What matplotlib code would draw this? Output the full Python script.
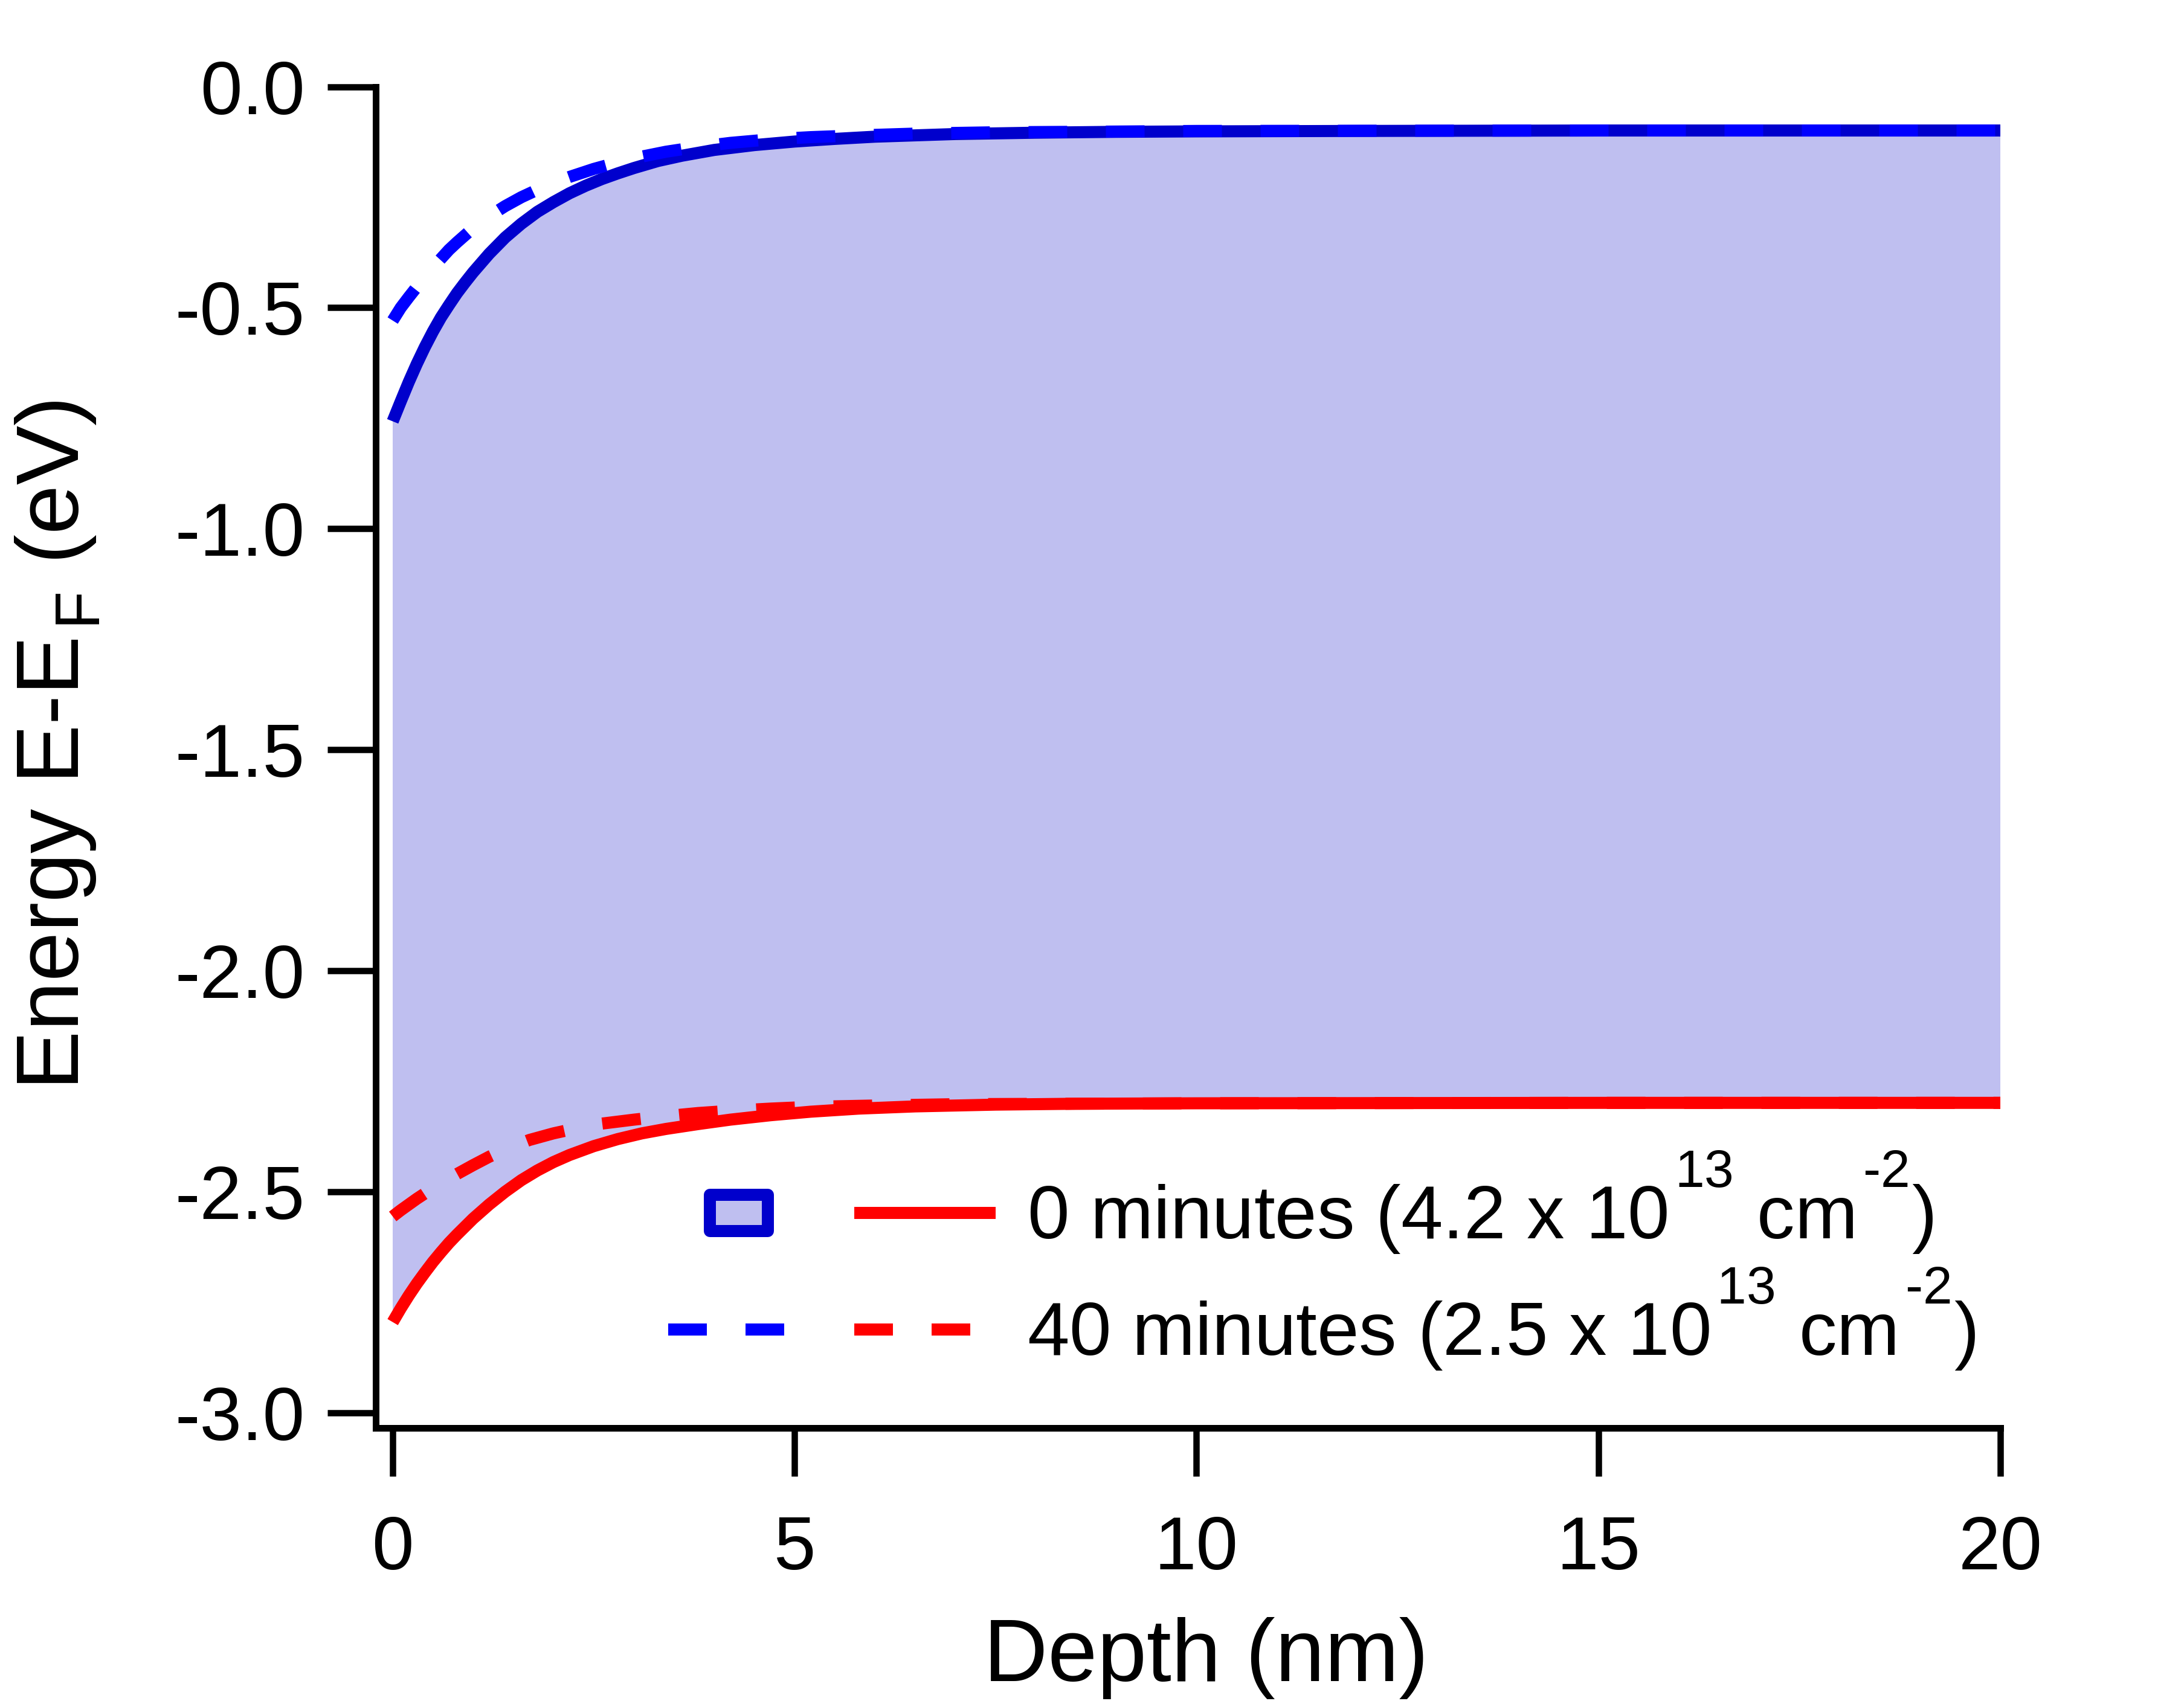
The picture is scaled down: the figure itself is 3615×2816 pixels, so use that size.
import numpy as np
import matplotlib
matplotlib.use("Agg")
import matplotlib.pyplot as plt
import matplotlib.patches as mpatches
import matplotlib._mathtext as _mt
from matplotlib.legend_handler import HandlerTuple, HandlerPatch

plt.rcParams['font.family'] = ['Liberation Sans', 'DejaVu Sans']
plt.rcParams['mathtext.fontset'] = 'custom'
plt.rcParams['mathtext.rm'] = 'Liberation Sans'
plt.rcParams['mathtext.it'] = 'Liberation Sans:italic'
plt.rcParams['mathtext.bf'] = 'Liberation Sans:bold'
plt.rcParams['axes.unicode_minus'] = False
# script placement in the reference: higher superscripts, lower subscript, small gap before
_mt.FontConstantsBase.sup1 = 1.3
_mt.FontConstantsBase.sub1 = 0.45
_mt.FontConstantsBase.delta = 0.2

# ---------------- data ----------------
# conduction band edge, 0 minutes (solid blue)
cb0_depth = [0, 0.1, 0.2, 0.3, 0.4, 0.5, 0.6, 0.7, 0.8, 0.9, 1.0, 1.2, 1.4, 1.6, 1.8,
             2.0, 2.2, 2.4, 2.6, 2.8, 3.0, 3.3, 3.6, 4.0, 4.5, 5.0, 5.5, 6.0, 7.0, 8.0,
             9.0, 10, 12, 15, 20]
cb0_energy = [-0.757, -0.712, -0.668, -0.627, -0.589, -0.554, -0.522, -0.494, -0.467,
              -0.443, -0.420, -0.378, -0.341, -0.310, -0.283, -0.261, -0.241, -0.224,
              -0.209, -0.196, -0.184, -0.168, -0.156, -0.143, -0.132, -0.124, -0.118,
              -0.113, -0.107, -0.104, -0.102, -0.101, -0.100, -0.099, -0.099]
# conduction band edge, 40 minutes (dashed blue)
cb40_depth = [0, 0.1, 0.2, 0.3, 0.4, 0.5, 0.6, 0.7, 0.8, 1.0, 1.2, 1.4, 1.6, 1.8, 2.0,
              2.2, 2.5, 2.8, 3.1, 3.4, 3.8, 4.2, 4.7, 5.2, 5.8, 6.5, 7.5, 8.5, 10, 15, 20]
cb40_energy = [-0.529, -0.500, -0.476, -0.453, -0.431, -0.409, -0.389, -0.369, -0.352,
               -0.320, -0.293, -0.270, -0.250, -0.233, -0.217, -0.204, -0.186, -0.171,
               -0.158, -0.147, -0.136, -0.127, -0.119, -0.114, -0.110, -0.106, -0.103,
               -0.102, -0.100, -0.099, -0.099]
# valence band edge, 0 minutes (solid red)
vb0_depth = [0, 0.1, 0.2, 0.3, 0.4, 0.5, 0.6, 0.7, 0.8, 1.0, 1.2, 1.4, 1.6, 1.8, 2.0,
             2.2, 2.5, 2.8, 3.1, 3.4, 3.8, 4.2, 4.7, 5.2, 5.8, 6.5, 7.5, 8.5, 10, 15, 20]
vb0_energy = [-2.795, -2.764, -2.735, -2.708, -2.683, -2.659, -2.637, -2.616, -2.597,
              -2.561, -2.529, -2.500, -2.474, -2.452, -2.433, -2.417, -2.397, -2.381,
              -2.368, -2.358, -2.347, -2.337, -2.327, -2.319, -2.312, -2.307, -2.303,
              -2.301, -2.300, -2.299, -2.299]
# valence band edge, 40 minutes (dashed red)
vb40_depth = [0, 0.1, 0.2, 0.3, 0.4, 0.5, 0.6, 0.8, 1.0, 1.2, 1.4, 1.7, 2.0, 2.3, 2.6,
              3.0, 3.4, 3.8, 4.2, 4.7, 5.2, 6.0, 7.0, 8.5, 10, 15, 20]
vb40_energy = [-2.556, -2.542, -2.529, -2.516, -2.504, -2.493, -2.481, -2.460, -2.440,
               -2.421, -2.404, -2.383, -2.368, -2.356, -2.346, -2.337, -2.329, -2.322,
               -2.317, -2.312, -2.308, -2.305, -2.302, -2.301, -2.300, -2.299, -2.299]

x_ticks = [0, 5, 10, 15, 20]
x_ticklabels = ["0", "5", "10", "15", "20"]
y_ticks = [0.0, -0.5, -1.0, -1.5, -2.0, -2.5, -3.0]
y_ticklabels = ["0.0", "-0.5", "-1.0", "-1.5", "-2.0", "-2.5", "-3.0"]

label_0 = "0 minutes (4.2 x 10$^{\\mathregular{13}}$ cm$^{\\mathregular{\u20102}}$)"
label_40 = "40 minutes (2.5 x 10$^{\\mathregular{13}}$ cm$^{\\mathregular{\u20102}}$)"
x_label = "Depth (nm)"
y_label = r"Energy E-E$_\mathregular{F}$ (eV)"

# ---------------- style ----------------
DPI = 100
PX = 72.0 / DPI           # points per pixel
W, H = 3616, 2816

FILL = "#BFBFF0"
DARKBLUE = "#0000CC"
BLUE = "#0000FF"
RED = "#FF0000"
LW = 20 * PX
DASH = (3.2, 3.2)
FS = 90
FS_LABEL = 106
FS_PX = FS / PX

fig = plt.figure(figsize=(W / DPI, H / DPI), dpi=DPI)
fig.patch.set_facecolor("white")
ax = fig.add_axes([622 / W, (H - 2364) / H, (3311 - 622) / W, (2364 - 143.6) / H])

# filled gap between CB (0 min) and VB (0 min)
poly_x = np.concatenate([cb0_depth, vb0_depth[::-1]])
poly_y = np.concatenate([cb0_energy, vb0_energy[::-1]])
ax.fill(poly_x, poly_y, color=FILL, lw=0, zorder=1)

l_b0, = ax.plot(cb0_depth, cb0_energy, color=DARKBLUE, lw=LW, solid_capstyle="butt",
                solid_joinstyle="round", zorder=2)
l_r0, = ax.plot(vb0_depth, vb0_energy, color=RED, lw=LW, solid_capstyle="butt",
                solid_joinstyle="round", zorder=2)
l_b40, = ax.plot(cb40_depth, cb40_energy, color=BLUE, lw=LW, dashes=DASH,
                 dash_capstyle="butt", zorder=3)
l_r40, = ax.plot(vb40_depth, vb40_energy, color=RED, lw=LW, dashes=DASH,
                 dash_capstyle="butt", zorder=3)

ax.set_xlim(-(650 - 622) / 133.05, 20)
ax.set_ylim(-(2364 - 143.6) / 731.7, 0)

for s in ["top", "right"]:
    ax.spines[s].set_visible(False)
for s in ["left", "bottom"]:
    ax.spines[s].set_linewidth(11 * PX)

ax.set_xticks(x_ticks)
ax.set_xticklabels(x_ticklabels)
ax.set_yticks(y_ticks)
ax.set_yticklabels(y_ticklabels)
ax.tick_params(axis="both", direction="out", length=80 * PX, width=10.5 * PX,
               labelsize=FS, color="black")
ax.tick_params(axis="x", pad=64 * PX)
ax.tick_params(axis="y", pad=37 * PX)

ax.set_xlabel(x_label, fontsize=FS_LABEL)
ax.set_ylabel(y_label, fontsize=FS_LABEL)
ax.xaxis.set_label_coords((1996 - 622) / (3311 - 622), (2364 - 2677) / (2364 - 143.6))
ax.yaxis.set_label_coords((168 - 622) / (3311 - 622), (2364 - 1234) / (2364 - 143.6))

# ---------------- legend ----------------
patch_proxy = mpatches.Rectangle((0, 0), 1, 1, facecolor=FILL, edgecolor=DARKBLUE,
                                 linewidth=LW, joinstyle="round")


def small_patch(legend, orig_handle, xdescent, ydescent, width, height, fontsize):
    w = 96 * PX
    h = 60 * PX
    return mpatches.Rectangle((-xdescent + (width - w) / 2, (height - ydescent) / 2 - h / 2),
                              w, h, joinstyle="round")


def make_legend(spacing, anchor):
    return ax.legend(handles=[(patch_proxy, l_r0), (l_b40, l_r40)], labels=[label_0, label_40],
                     handler_map={tuple: HandlerTuple(ndivide=None, pad=74 / FS_PX),
                                  mpatches.Rectangle: HandlerPatch(patch_func=small_patch)},
                     loc="upper left", bbox_to_anchor=anchor, bbox_transform=fig.transFigure,
                     frameon=False, fontsize=FS, handlelength=542 / FS_PX,
                     handletextpad=52 / FS_PX, labelspacing=spacing, borderpad=0,
                     borderaxespad=0)


def centre(artist, r):
    bb = artist.get_window_extent(r)
    return (bb.x0 + bb.x1) / 2, (bb.y0 + bb.y1) / 2


ls0 = 0.5
anchor = (0.30, 0.33)
leg = make_legend(ls0, anchor)
fig.canvas.draw()
r = fig.canvas.get_renderer()
c0 = centre(leg.legend_handles[0], r)
c1 = centre(leg.legend_handles[1], r)
dy = c0[1] - c1[1]
ls1 = ls0 + (193 - dy) / FS_PX
leg.remove()
leg = make_legend(ls1, anchor)
fig.canvas.draw()
r = fig.canvas.get_renderer()
c0 = centre(leg.legend_handles[0], r)
tx, ty = 1222.5, H - 2007.5
leg.set_bbox_to_anchor((anchor[0] + (tx - c0[0]) / W, anchor[1] + (ty - c0[1]) / H),
                       transform=fig.transFigure)

fig.savefig("out.png", dpi=DPI, facecolor="white")
